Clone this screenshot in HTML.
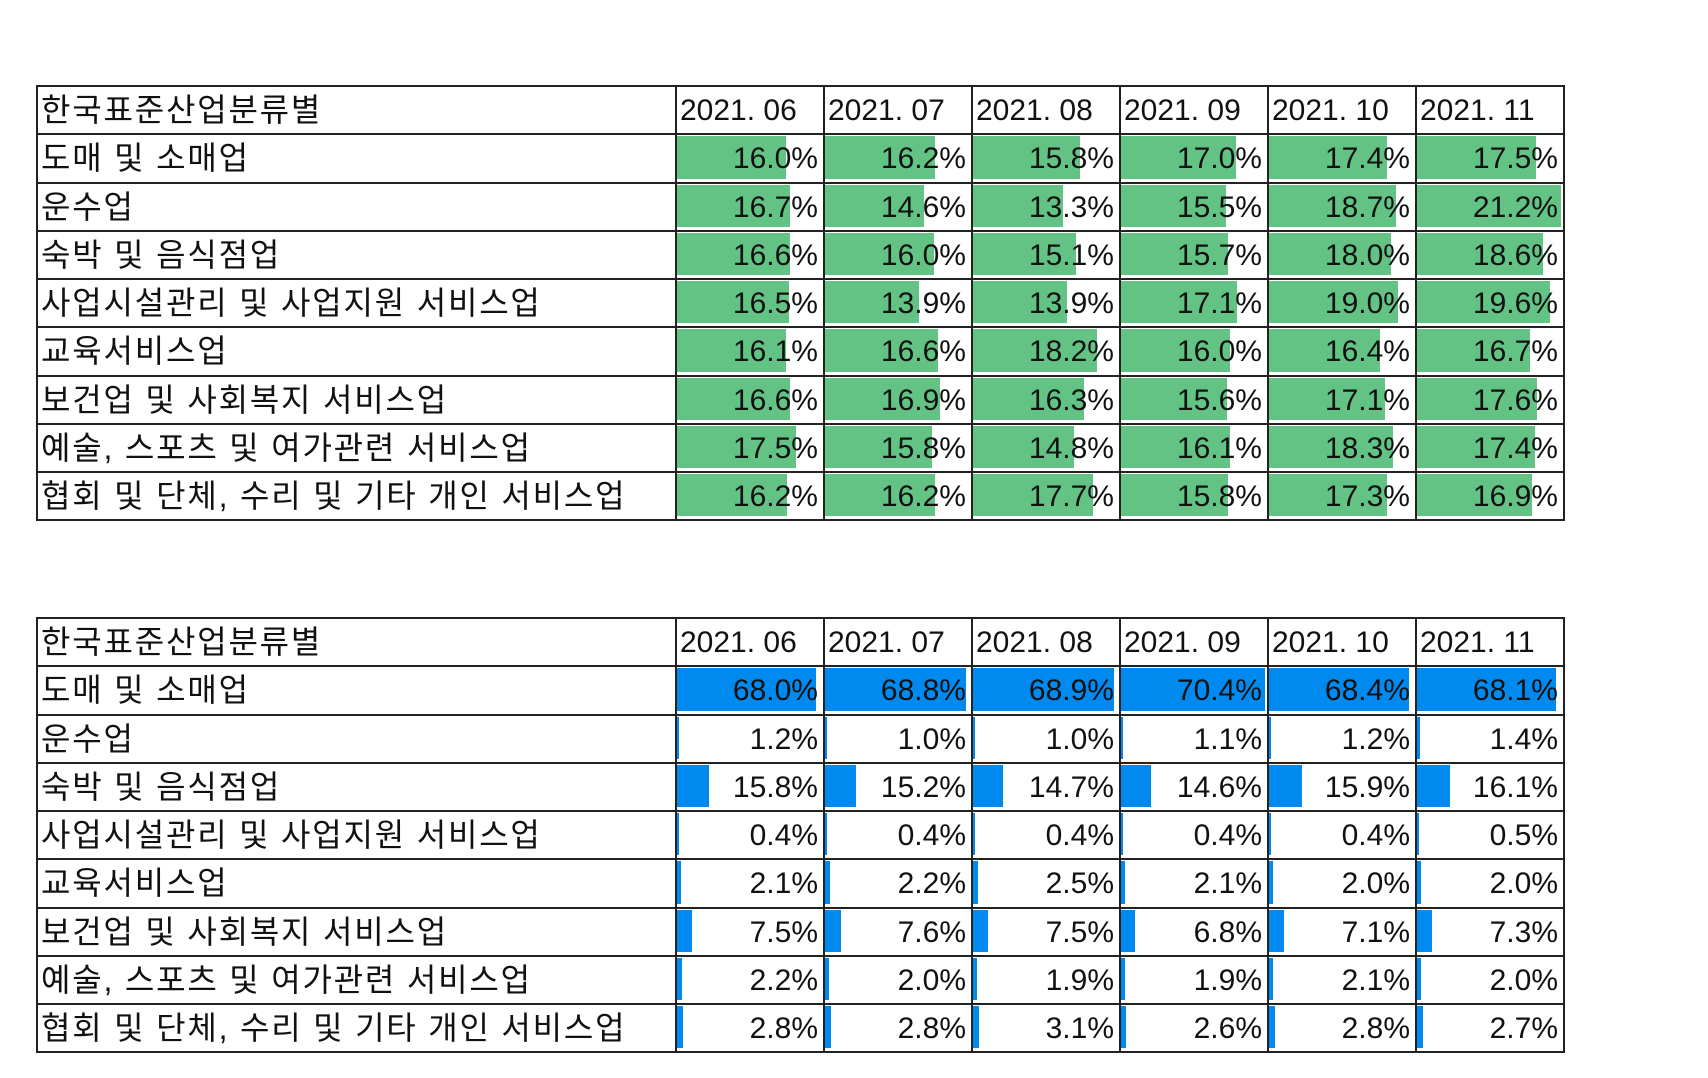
<!DOCTYPE html>
<html><head><meta charset="utf-8">
<style>
body{margin:0;background:#fff;width:1708px;height:1078px;overflow:hidden;position:relative;font-family:"Liberation Sans","Noto Sans CJK KR",sans-serif;}
.cell{position:absolute;box-sizing:border-box;overflow:hidden;}
.lbl{font-size:32px;letter-spacing:1.8px;line-height:50px;padding-left:5px;white-space:nowrap;color:#111;}
.hd{font-size:30px;line-height:52px;padding-left:5px;white-space:nowrap;color:#111;}
.hd.k{font-size:32px;letter-spacing:1.8px;line-height:50px;}
.val{position:absolute;right:5px;top:0;font-size:30px;line-height:52px;color:#111;}
.bar{position:absolute;left:2px;top:3px;bottom:3px;}
.line{position:absolute;background:#222;}
</style></head><body>
<div id="root"></div>
<script>
const industries=["도매 및 소매업","운수업","숙박 및 음식점업","사업시설관리 및 사업지원 서비스업","교육서비스업","보건업 및 사회복지 서비스업","예술, 스포츠 및 여가관련 서비스업","협회 및 단체, 수리 및 기타 개인 서비스업"];
const months=["2021. 06","2021. 07","2021. 08","2021. 09","2021. 10","2021. 11"];
const greenValues=[
[16.0,16.2,15.8,17.0,17.4,17.5],
[16.7,14.6,13.3,15.5,18.7,21.2],
[16.6,16.0,15.1,15.7,18.0,18.6],
[16.5,13.9,13.9,17.1,19.0,19.6],
[16.1,16.6,18.2,16.0,16.4,16.7],
[16.6,16.9,16.3,15.6,17.1,17.6],
[17.5,15.8,14.8,16.1,18.3,17.4],
[16.2,16.2,17.7,15.8,17.3,16.9]];
const blueValues=[
[68.0,68.8,68.9,70.4,68.4,68.1],
[1.2,1.0,1.0,1.1,1.2,1.4],
[15.8,15.2,14.7,14.6,15.9,16.1],
[0.4,0.4,0.4,0.4,0.4,0.5],
[2.1,2.2,2.5,2.1,2.0,2.0],
[7.5,7.6,7.5,6.8,7.1,7.3],
[2.2,2.0,1.9,1.9,2.1,2.0],
[2.8,2.8,3.1,2.6,2.8,2.7]];
const headerLabel="한국표준산업분류별";

const LEFT=36, COL1=675, COLW=148, RH=48.25;
function build(top,vals,color,name){
  const root=document.getElementById('root');
  const t=document.createElement('div');
  
  
  t.style.cssText='position:absolute;left:0;top:0;';
  root.appendChild(t);
  const max=Math.max(...vals.flat());
  const colX=i=>COL1+i*COLW;
  const right=colX(months.length)+1;
  let h=document.createElement('div');h.className='cell hd k';
  
  
  h.style.cssText=`left:${LEFT}px;top:${top}px;width:${COL1-LEFT}px;height:${RH}px;`;
  h.textContent=headerLabel;t.appendChild(h);
  months.forEach((m,i)=>{
    const c=document.createElement('div');c.className='cell hd';
    
    
    c.style.cssText=`left:${colX(i)}px;top:${top}px;width:${COLW}px;height:${RH}px;`;
    c.textContent=m;t.appendChild(c);
  });
  industries.forEach((ind,r)=>{
    const y=top+RH*(r+1);
    const l=document.createElement('div');l.className='cell lbl';
    
    
    l.style.cssText=`left:${LEFT}px;top:${y}px;width:${COL1-LEFT}px;height:${RH}px;`;
    l.textContent=ind;t.appendChild(l);
    months.forEach((m,i)=>{
      const v=vals[r][i];
      const c=document.createElement('div');c.className='cell';
      
      
      c.style.cssText=`left:${colX(i)}px;top:${y}px;width:${COLW}px;height:${RH}px;`;
      const inner=COLW-4;
      const b=document.createElement('div');b.className='bar';
      
      
      b.style.width=Math.max(2,v/max*inner)+'px';
      b.style.background=color;
      c.appendChild(b);
      const s=document.createElement('span');s.className='val';
      
      
      s.textContent=v.toFixed(1)+'%';c.appendChild(s);
      t.appendChild(c);
    });
  });
  const nRows=industries.length+1;
  for(let r=0;r<=nRows;r++){
    const ln=document.createElement('div');ln.className='line';
    
    
    ln.style.cssText=`left:${LEFT}px;top:${Math.round(top+RH*r)}px;width:${right-LEFT}px;height:2px;`;
    t.appendChild(ln);
  }
  const xs=[LEFT,...months.map((m,i)=>colX(i)),colX(months.length)];
  xs.forEach(x=>{
    const ln=document.createElement('div');ln.className='line';
    
    
    ln.style.cssText=`left:${x}px;top:${top}px;width:1.5px;height:${RH*nRows+2}px;`;
    t.appendChild(ln);
  });
}
build(85,greenValues,'#63c384','share-table-green');
build(617,blueValues,'#008aef','share-table-blue');
</script>
</body></html>
